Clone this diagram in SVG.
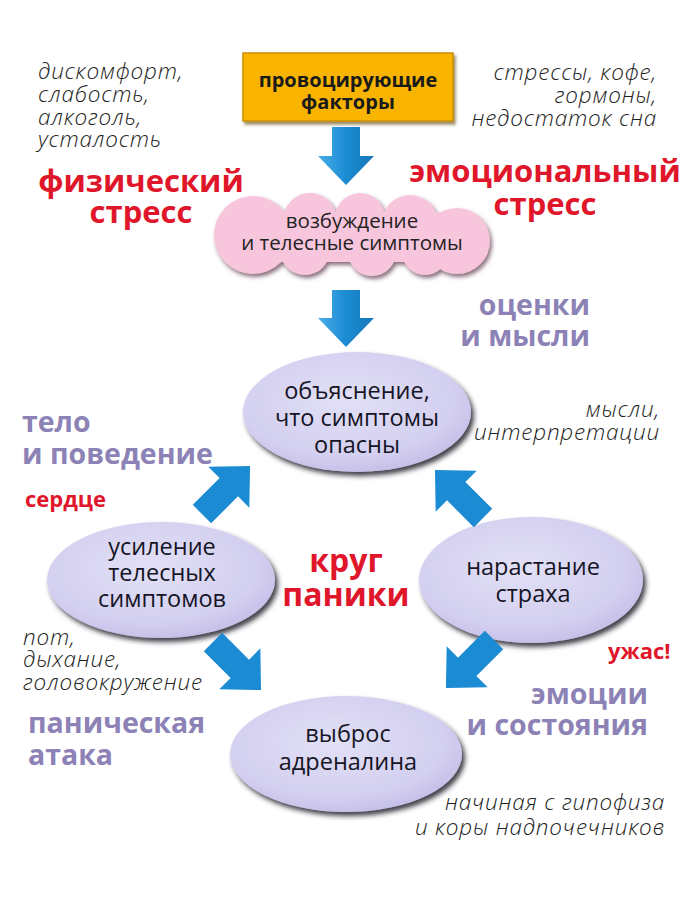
<svg xmlns="http://www.w3.org/2000/svg" width="700" height="900" viewBox="0 0 700 900">
<defs>
<style>
.it{font-family:"Open Sans","Noto Sans",sans-serif;font-style:italic;font-weight:300;font-size:22.5px;letter-spacing:0.8px;fill:#222;}
.red{font-family:"Open Sans","Noto Sans",sans-serif;font-weight:bold;fill:#e0162b;}
.pur{font-family:"Open Sans","Noto Sans",sans-serif;font-weight:bold;fill:#8c82b6;font-size:28.5px;}
.node{font-family:"Open Sans","Noto Sans",sans-serif;font-size:23.5px;fill:#151525;text-anchor:middle;}
.ell{fill:url(#eg);filter:url(#sh);}
.arr{fill:#1b8bd3;}
</style>
<radialGradient id="eg" cx="0.45" cy="0.4" r="0.6">
<stop offset="0" stop-color="#e2e0f6"/>
<stop offset="0.8" stop-color="#d3cff0"/>
<stop offset="1" stop-color="#c6c1e8"/>
</radialGradient>
<linearGradient id="ag" x1="0" y1="0" x2="1" y2="0">
<stop offset="0" stop-color="#4aaee8"/>
<stop offset="0.5" stop-color="#1b8bd3"/>
<stop offset="1" stop-color="#1577b8"/>
</linearGradient>
<filter id="sh" x="-20%" y="-20%" width="140%" height="150%">
<feDropShadow dx="3" dy="4" stdDeviation="2.5" flood-color="#1a1a2a" flood-opacity="0.85"/>
</filter>
<filter id="shc" x="-20%" y="-20%" width="140%" height="150%">
<feDropShadow dx="2" dy="3" stdDeviation="2" flood-color="#6a4a5a" flood-opacity="0.8"/>
</filter>
<filter id="shb" x="-10%" y="-10%" width="120%" height="140%">
<feDropShadow dx="2" dy="3" stdDeviation="1.5" flood-color="#5a4000" flood-opacity="0.6"/>
</filter>
<path id="da" d="M-34,-13 L4,-13 L4,-29 L34,0 L4,29 L4,13 L-34,13 Z"/>
</defs>
<rect width="700" height="900" fill="#ffffff"/>

<!-- side texts -->
<g id="left-top-notes">
<text class="it" x="38" y="79">дискомфорт,</text>
<text class="it" x="38" y="102">слабость,</text>
<text class="it" x="38" y="125">алкоголь,</text>
<text class="it" x="38" y="147">усталость</text>
</g>
<g id="right-top-notes" text-anchor="end">
<text class="it" x="657" y="80">стрессы, кофе,</text>
<text class="it" x="657" y="103">гормоны,</text>
<text class="it" x="657" y="126">недостаток сна</text>
</g>
<g id="phys-stress" text-anchor="middle">
<text class="red" x="141" y="192" font-size="31">физический</text>
<text class="red" x="141" y="223" font-size="31">стресс</text>
</g>
<g id="emo-stress" text-anchor="middle">
<text class="red" x="545" y="182" font-size="31">эмоциональный</text>
<text class="red" x="545" y="215" font-size="31">стресс</text>
</g>
<g id="evals" text-anchor="end">
<text class="pur" x="590" y="315">оценки</text>
<text class="pur" x="590" y="346">и мысли</text>
</g>
<g id="thoughts" text-anchor="end">
<text class="it" x="660" y="417">мысли,</text>
<text class="it" x="660" y="440">интерпретации</text>
</g>
<g id="body">
<text class="pur" x="22" y="432">тело</text>
<text class="pur" x="22" y="464">и поведение</text>
</g>
<text id="heart" class="red" x="25" y="507" font-size="22">сердце</text>
<g id="circle-label" text-anchor="middle">
<text class="red" x="346" y="572" font-size="32">круг</text>
<text class="red" x="346" y="606" font-size="32">паники</text>
</g>
<g id="sweat">
<text class="it" x="23" y="645">пот,</text>
<text class="it" x="23" y="667">дыхание,</text>
<text class="it" x="23" y="690">головокружение</text>
</g>
<text id="horror" class="red" x="608" y="659" font-size="22">ужас!</text>
<g id="panic-attack">
<text class="pur" x="28" y="733">паническая</text>
<text class="pur" x="28" y="765">атака</text>
</g>
<g id="emotions" text-anchor="end">
<text class="pur" x="648" y="704">эмоции</text>
<text class="pur" x="648" y="735">и состояния</text>
</g>
<g id="pituitary" text-anchor="end">
<text class="it" x="665" y="810">начиная с гипофиза</text>
<text class="it" x="665" y="835">и коры надпочечников</text>
</g>

<!-- nodes -->
<g id="factors">
<rect x="243" y="53" width="210" height="68" fill="#f8b400" stroke="#c98f00" stroke-width="1.5" filter="url(#shb)"/>
<text x="348" y="87" text-anchor="middle" font-family="'Open Sans','Noto Sans',sans-serif" font-weight="bold" font-size="20" fill="#1a1a1a">провоцирующие</text>
<text x="348" y="109" text-anchor="middle" font-family="'Open Sans','Noto Sans',sans-serif" font-weight="bold" font-size="20" fill="#1a1a1a">факторы</text>
</g>
<g id="arousal">
<g fill="#f8c6dc" filter="url(#shc)">
<circle cx="253" cy="235" r="39"/>
<circle cx="310" cy="220" r="27"/>
<circle cx="360" cy="218" r="25"/>
<circle cx="410" cy="223" r="28"/>
<circle cx="457" cy="241" r="33"/>
<circle cx="305" cy="250" r="25"/>
<circle cx="372" cy="252" r="24"/>
<circle cx="425" cy="252" r="23"/>
<rect x="253" y="212" width="204" height="50"/>
</g>
<text x="352" y="228" text-anchor="middle" font-family="'Open Sans','Noto Sans',sans-serif" font-size="20.5" fill="#222">возбуждение</text>
<text x="352" y="250" text-anchor="middle" font-family="'Open Sans','Noto Sans',sans-serif" font-size="20.5" fill="#222">и телесные симптомы</text>
</g>
<g id="explanation">
<ellipse class="ell" cx="357" cy="412" rx="114" ry="60"/>
<text class="node" x="357" y="399">объяснение,</text>
<text class="node" x="357" y="426">что симптомы</text>
<text class="node" x="357" y="453">опасны</text>
</g>
<g id="amplification">
<ellipse class="ell" cx="161" cy="580" rx="114" ry="58"/>
<text class="node" x="162" y="555">усиление</text>
<text class="node" x="162" y="581">телесных</text>
<text class="node" x="162" y="607">симптомов</text>
</g>
<g id="fear">
<ellipse class="ell" cx="531" cy="580" rx="112" ry="63"/>
<text class="node" x="533" y="575">нарастание</text>
<text class="node" x="533" y="602">страха</text>
</g>
<g id="adrenaline">
<ellipse class="ell" cx="346" cy="754" rx="116" ry="58"/>
<text class="node" x="348" y="742">выброс</text>
<text class="node" x="348" y="770">адреналина</text>
</g>

<!-- connectors -->
<g id="connectors">
<polygon fill="url(#ag)" points="332,127 360,127 360,156 374,156 346,185 318,156 332,156"/>
<polygon fill="url(#ag)" points="332,290 360,290 360,318 374,318 346,347 318,318 332,318"/>
<use href="#da" class="arr" transform="translate(226,490) rotate(-45)"/>
<use href="#da" class="arr" transform="translate(459,494) rotate(-135)"/>
<use href="#da" class="arr" transform="translate(470,664) rotate(135)"/>
<use href="#da" class="arr" transform="translate(237,666) rotate(45)"/>
</g>
</svg>
